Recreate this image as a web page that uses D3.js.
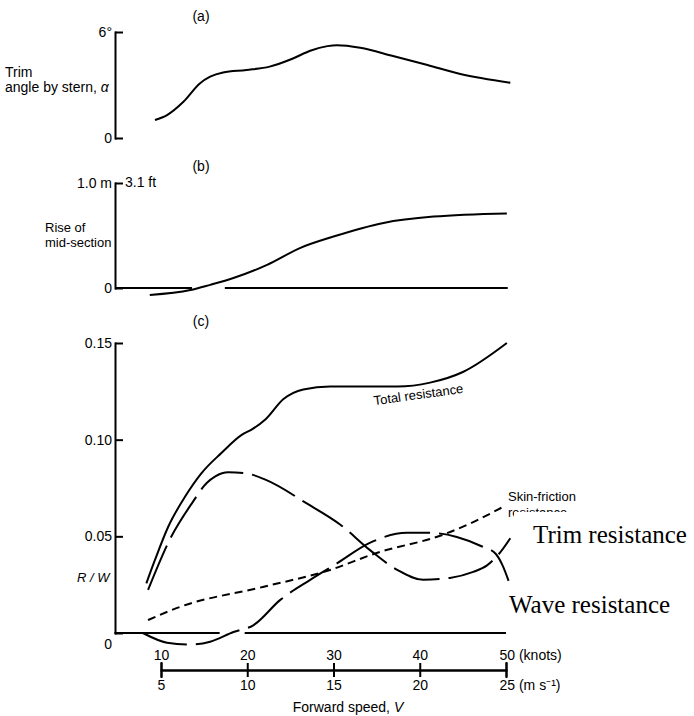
<!DOCTYPE html>
<html>
<head>
<meta charset="utf-8">
<script src="https://cdn.jsdelivr.net/npm/d3@7"></script>
<style>
body { margin: 0; background: #fff; }
svg text { font-family: "Liberation Sans", Arial, sans-serif; font-size: 14px; fill: #000; }
svg text.serif { font-family: "Liberation Serif", "Times New Roman", serif; font-size: 25px; }
</style>
</head>
<body>
<div id="chart"></div>
<script>
// (a) trim angle by stern, degrees
const trimSpeed = [9.3, 10.7, 12.6, 14.5, 15.7, 17.2, 19.9, 22.6, 25.3, 27.3, 29.3, 30.4, 33.1, 36.9, 40.9, 44.7, 50.5];
const trimAngle = [1.02, 1.3, 2.05, 3.09, 3.47, 3.71, 3.85, 4.04, 4.5, 4.94, 5.2, 5.25, 5.11, 4.64, 4.13, 3.62, 3.13];

// (b) rise of mid-section, m
const riseSpeed = [8.7, 13.4, 15.7, 18.4, 22.3, 26.1, 30, 35.8, 41.6, 50.1];
const riseValue = [-0.067, -0.02, 0.03, 0.095, 0.22, 0.38, 0.49, 0.62, 0.68, 0.71];

// (c) resistance / weight
const totalSpeed = [8.3, 9.3, 10.85, 12.8, 14.7, 17.0, 19.4, 20.5, 22.1, 24.2, 26.5, 29.6, 33.4, 37.4, 41.2, 45, 50.1];
const totalRW = [0.0257, 0.0378, 0.0551, 0.0706, 0.0827, 0.0931, 0.1026, 0.1052, 0.1104, 0.121, 0.126, 0.1275, 0.1275, 0.1275, 0.1295, 0.135, 0.150];

const humpSpeed = [8.5, 11.2, 13.6, 15.3, 16.3, 17.8, 19.7, 22.1, 26.9, 30.8, 34.2, 37.4, 40.4, 43.5, 46.2, 47.8, 49.2, 50.5];
const humpRW = [0.0223, 0.0499, 0.0672, 0.0776, 0.081, 0.0831, 0.0827, 0.0793, 0.067, 0.056, 0.043, 0.0326, 0.0275, 0.0285, 0.0316, 0.035, 0.041, 0.049];

const riseCurveSpeed = [7.9, 10.7, 13.4, 15.7, 18.4, 20.7, 23.8, 27.3, 30.4, 34.2, 38.5, 41.2, 44.3, 47.3, 48.8, 49.6, 50.3];
const riseCurveRW = [0, -0.005, -0.006, -0.0045, 0.0005, 0.004, 0.017, 0.0275, 0.036, 0.0466, 0.0518, 0.0518, 0.0497, 0.0446, 0.041, 0.035, 0.027];

const skinSpeed = [8.5, 12.2, 21.8, 29.6, 35, 42.8, 46, 49.9];
const skinRW = [0.0067, 0.0135, 0.0238, 0.0326, 0.0414, 0.051, 0.057, 0.0658];

// zero lines are broken where a curve crosses them
const baselineB = [[4.7, 13.6], [17.4, 50.2]];
const baselineC = [[4.6, 16.8], [19.7, 50]];

const knotTicks = [10, 20, 30, 40, 50];
const msTicks = [5, 10, 15, 20, 25];
const rwTicks = [0, 0.05, 0.10, 0.15];

const width = 694, height = 716;
const axisX = 115;

const svg = d3.select("#chart").append("svg")
    .attr("width", width)
    .attr("height", height);

const x = d3.scaleLinear().domain([10, 50]).range([161, 506]);
const xMs = d3.scaleLinear().domain([5, 25]).range([161, 506]);
const yA = d3.scaleLinear().domain([0, 6]).range([138, 32]);
const yB = d3.scaleLinear().domain([0, 1]).range([288, 183]);
const yC = d3.scaleLinear().domain([0, 0.15]).range([633, 343]);

function styleAxis(g) {
    g.selectAll("path, line").attr("stroke", "#000").attr("stroke-width", 2);
    g.select(".domain").attr("stroke-linecap", "square");
}

function leftAxis(scale, ticks, fmt) {
    const g = svg.append("g").attr("transform", `translate(${axisX},0)`);
    g.call(d3.axisLeft(scale).tickValues(ticks).tickFormat(fmt)
        .tickSizeInner(-8).tickSizeOuter(0).tickPadding(3));
    styleAxis(g);
    return g;
}

function drawCurve(speed, values, yScale, dash) {
    const line = d3.line()
        .x(d => x(d[0]))
        .y(d => yScale(d[1]))
        .curve(d3.curveMonotoneX);
    svg.append("path")
        .datum(d3.zip(speed, values))
        .attr("fill", "none")
        .attr("stroke", "#000")
        .attr("stroke-width", 2)
        .attr("stroke-dasharray", dash || null)
        .attr("d", line);
}

function drawBaseline(pieces, yScale) {
    svg.selectAll(null).data(pieces).enter().append("line")
        .attr("x1", d => x(d[0])).attr("x2", d => x(d[1]))
        .attr("y1", yScale(0)).attr("y2", yScale(0))
        .attr("stroke", "#000").attr("stroke-width", 2);
}

// ---- (a) ----
leftAxis(yA, [0, 6], d => d === 0 ? "0" : "6°");
svg.append("text").attr("x", 201).attr("y", 21).attr("text-anchor", "middle").text("(a)");
svg.append("text").attr("x", 5).attr("y", 77).text("Trim");
svg.append("text").attr("x", 5).attr("y", 92).text("angle by stern, ")
    .append("tspan").style("font-style", "italic").text("α");
drawCurve(trimSpeed, trimAngle, yA);

// ---- (b) ----
leftAxis(yB, [0, 1], d => d === 0 ? "0" : "1.0 m");
svg.append("text").attr("x", axisX + 10).attr("y", yB(1)).attr("dy", "0.32em").text("3.1 ft");
svg.append("text").attr("x", 201).attr("y", 171).attr("text-anchor", "middle").text("(b)");
svg.append("text").attr("x", 45).attr("y", 232).style("font-size", "13px").text("Rise of");
svg.append("text").attr("x", 45).attr("y", 247).style("font-size", "13px").text("mid-section");
drawBaseline(baselineB, yB);
drawCurve(riseSpeed, riseValue, yB);

// ---- (c) ----
const cAxis = leftAxis(yC, rwTicks, d => d === 0 ? "0" : d.toFixed(2));
cAxis.selectAll(".tick text").filter(d => d === 0).attr("dy", "1.1em");
svg.append("text").attr("x", 201).attr("y", 326).attr("text-anchor", "middle").text("(c)");
svg.append("text").attr("x", 77).attr("y", 582).style("font-style", "italic")
    .style("font-size", "13px").text("R / W");
drawBaseline(baselineC, yC);

drawCurve(totalSpeed, totalRW, yC);
drawCurve(humpSpeed, humpRW, yC, "48,9");
drawCurve(riseCurveSpeed, riseCurveRW, yC, "46,9");
drawCurve(skinSpeed, skinRW, yC, "8,5");

svg.append("text")
    .attr("transform", "translate(419,399) rotate(-8)")
    .attr("text-anchor", "middle")
    .style("font-size", "13px")
    .text("Total resistance");

svg.append("text").attr("x", 508).attr("y", 501).style("font-size", "13px").text("Skin-friction");
svg.append("text").attr("x", 508).attr("y", 517).style("font-size", "13px").text("resistance");
svg.append("rect").attr("x", 514).attr("y", 512).attr("width", 180).attr("height", 38).attr("fill", "#fff");
svg.append("text").attr("class", "serif").attr("x", 533).attr("y", 543).text("Trim resistance");
svg.append("text").attr("class", "serif").attr("x", 509).attr("y", 613).text("Wave resistance");

// ---- speed scale ----
const barY = 670;
const kAxis = svg.append("g").attr("transform", `translate(0,${barY})`);
kAxis.call(d3.axisTop(x).tickValues(knotTicks).tickSize(7).tickPadding(3)
    .tickFormat(d => d === 50 ? "50 (knots)" : d));
styleAxis(kAxis);
kAxis.selectAll(".tick text").filter(d => d === 50).attr("text-anchor", "start").attr("x", -7);

const mAxis = svg.append("g").attr("transform", `translate(0,${barY})`);
mAxis.call(d3.axisBottom(xMs).tickValues(msTicks).tickSize(7).tickPadding(3)
    .tickFormat(d => d === 25 ? "25 (m s⁻¹)" : d));
styleAxis(mAxis);
mAxis.selectAll(".tick text").filter(d => d === 25).attr("text-anchor", "start").attr("x", -7);

const fs = svg.append("text").attr("x", 348).attr("y", 712).attr("text-anchor", "middle").text("Forward speed, ");
fs.append("tspan").style("font-style", "italic").text("V");
</script>
</body>
</html>
